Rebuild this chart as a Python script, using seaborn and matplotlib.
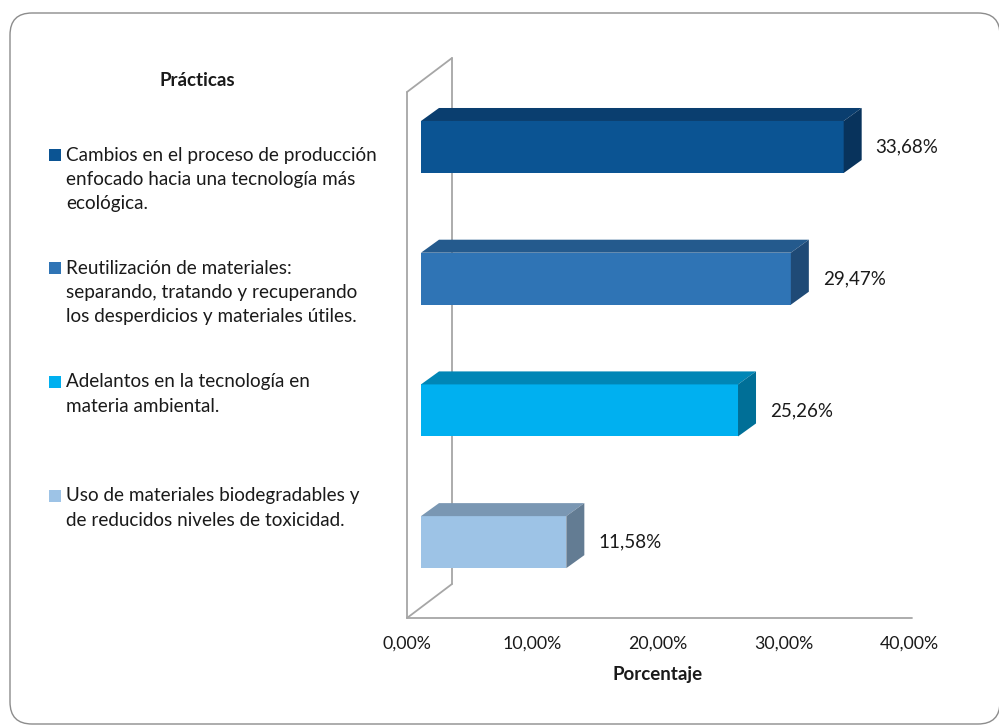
import matplotlib
matplotlib.use("Agg")
import matplotlib.pyplot as plt
import matplotlib.transforms as mtransforms
from matplotlib.patches import Polygon, Rectangle, FancyBboxPatch
import seaborn as sns

# data
practicas = [
    "Cambios en el proceso de producción\nenfocado hacia una tecnología más\necológica.",
    "Reutilización de materiales:\nseparando, tratando y recuperando\nlos desperdicios y materiales útiles.",
    "Adelantos en la tecnología en\nmateria ambiental.",
    "Uso de materiales biodegradables y\nde reducidos niveles de toxicidad.",
]
porcentaje = [33.68, 29.47, 25.26, 11.58]
ticks = [0, 10, 20, 30, 40]
tick_labels = ["0,00%", "10,00%", "20,00%", "30,00%", "40,00%"]

# colours: front, top, side
front = ["#0B5493", "#2F74B5", "#00B0F0", "#9DC3E6"]
top = ["#0A3E6F", "#245A8D", "#0086B6", "#7A97B3"]
side = ["#08335C", "#1F4A76", "#006F97", "#637C93"]

sns.set_style("white")
plt.rcParams["font.family"] = ["Lato", "DejaVu Sans"]

W, H = 999, 725
fig = plt.figure(figsize=(W / 100, H / 100), dpi=100)


def P(x, y):
    # pixel position -> figure fraction
    return x / W, 1 - y / H


# rounded outer frame
frame = FancyBboxPatch((0.10, 0.01), 9.90, 7.11,
                       boxstyle="round,pad=0,rounding_size=0.22",
                       transform=fig.dpi_scale_trans, fill=False,
                       edgecolor="#8C8C8C", linewidth=1.0)
fig.add_artist(frame)

# axes = the plane of the bar front faces
x0, x40 = 421, 923
ytop, ybot = 92, 618
ax = fig.add_axes([x0 / W, 1 - ybot / H, (x40 - x0) / W, (ybot - ytop) / H])
ax.set_facecolor("none")

sns.barplot(x=porcentaje, y=practicas, hue=practicas, palette=front,
            orient="h", width=0.395, legend=False, saturation=1,
            linewidth=0, ax=ax)

ax.set_xlim(0, 40)
ax.set_ylim(3.576, -0.4176)
for s in ax.spines.values():
    s.set_visible(False)
ax.set_yticks([])

# 3d faces
dx = 18 / ((x40 - x0) / 40)
dy = 13 / ((ybot - ytop) / (3.576 + 0.4176))
for p in ax.patches:
    bx, by = p.get_x(), p.get_y()
    bw, bh = p.get_width(), p.get_height()
    i = int(round(by + bh / 2))
    ax.add_patch(Polygon([(bx, by), (bx + bw, by), (bx + bw + dx, by - dy),
                          (bx + dx, by - dy)], closed=True,
                         facecolor=top[i], edgecolor="none", zorder=1))
    ax.add_patch(Polygon([(bx + bw, by), (bx + bw, by + bh),
                          (bx + bw + dx, by + bh - dy), (bx + bw + dx, by - dy)],
                         closed=True, facecolor=side[i], edgecolor="none",
                         zorder=1))

# value labels
for c, v in zip(ax.containers, porcentaje):
    ax.bar_label(c, labels=[f"{v:.2f}%".replace(".", ",")], padding=23,
                 fontsize=13.5, color="#1A1A1A")

# x axis
ax.set_xticks(ticks)
ax.set_xticklabels(tick_labels, fontsize=12.8, color="#1A1A1A")
ax.tick_params(axis="x", length=0, pad=13)
shift = mtransforms.ScaledTranslation(-0.14, 0, fig.dpi_scale_trans)
for lab in ax.get_xticklabels():
    lab.set_transform(lab.get_transform() + shift)
ax.set_xlabel("Porcentaje", fontsize=13.5, fontweight="bold", color="#1A1A1A")
ax.xaxis.set_label_coords((658 - x0) / (x40 - x0), (ybot - 666) / (ybot - ytop))

# walls and floor
wall = "#A6A6A6"
for (a, b, z) in [((407, 92), (407, 618), 3), ((407, 92), (452, 58), 3),
                  ((452, 58), (452, 584), 0.5), ((407, 618), (452, 584), 3),
                  ((407, 618), (912, 618), 3)]:
    xa, ya = P(*a)
    xb, yb = P(*b)
    ax.plot([xa, xb], [ya, yb], color=wall, lw=1.3, transform=fig.transFigure,
            clip_on=False, zorder=z)

# legend
fig.text(*P(197, 80), "Prácticas", ha="center", va="center",
         fontsize=13.5, fontweight="bold", color="#1A1A1A")
starts = [155, 268, 382, 496]
for i, (name, y) in enumerate(zip(practicas, starts)):
    fx, fy = P(49, y + 6)
    fig.add_artist(Rectangle((fx, fy), 12 / W, 12 / H, transform=fig.transFigure,
                             facecolor=front[i], edgecolor="none"))
    for k, line in enumerate(name.split("\n")):
        fig.text(*P(66, y + k * 24.3), line, ha="left", va="center",
                 fontsize=13.6, color="#1A1A1A")

fig.savefig("out.png", dpi=100)
